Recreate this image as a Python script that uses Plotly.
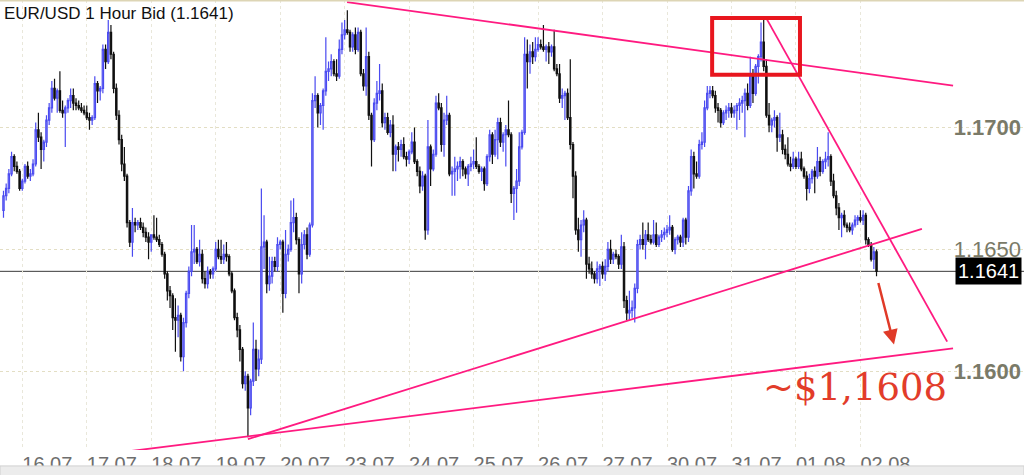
import plotly.graph_objects as go
from datetime import datetime, timedelta

# ---------------- data (prices in pips above 1.1600) ----------------
BASE = 1.1600
PIP = 0.0001

day_dates = ["2018-07-13", "2018-07-16", "2018-07-17", "2018-07-18", "2018-07-19",
             "2018-07-20", "2018-07-23", "2018-07-24", "2018-07-25", "2018-07-26",
             "2018-07-27", "2018-07-30", "2018-07-31", "2018-08-01", "2018-08-02"]
day_labels = ["13.07", "16.07", "17.07", "18.07", "19.07", "20.07", "23.07", "24.07",
              "25.07", "26.07", "27.07", "30.07", "31.07", "01.08", "02.08"]
first_hour = [17, 0, 0, 0, 0, 0, 0, 0, 0, 0, 0, 0, 0, 0, 0]
bars_per_day = [7, 24, 24, 24, 24, 24, 24, 24, 24, 24, 24, 24, 24, 24, 7]

first_open = 66
close_pips = [
    72, 75, 81, 88, 84, 82, 75,
    78, 84, 80, 81, 85, 99, 96, 91, 94, 103, 108, 116, 112, 115, 107, 106, 108, 111, 113, 110, 109, 108, 107, 106,
    104, 103, 104, 118, 115, 116, 132, 127, 139, 130, 116, 105, 95, 85, 80, 61, 53, 61, 60, 61, 59, 57, 55, 53,
    56, 55, 54, 52, 48, 40, 33, 31, 22, 21, 23, 6, 20, 32, 41, 49, 50, 45, 48, 38, 36, 41, 40, 42,
    50, 47, 46, 48, 47, 40, 33, 22, 17, 9, -5, -2, -15, -4, 9, 1, 5, 51, 53, 36, 39, 45, 43, 52,
    53, 32, 48, 50, 61, 63, 54, 40, 52, 56, 48, 60, 111, 113, 106, 109, 115, 123, 124, 127, 122, 121, 132, 138,
    140, 139, 133, 138, 132, 139, 122, 117, 129, 105, 95, 110, 114, 115, 102, 104, 98, 101, 89, 92, 91, 93, 88, 87,
    90, 94, 86, 82, 76, 80, 58, 92, 83, 89, 110, 108, 93, 103, 105, 81, 82, 83, 84, 86, 83, 81, 84, 85,
    86, 84, 82, 83, 77, 88, 97, 89, 95, 102, 94, 97, 99, 97, 73, 75, 78, 92, 98, 130, 127, 131, 129, 132,
    134, 133, 132, 133, 131, 133, 124, 122, 112, 113, 114, 104, 93, 80, 58, 54, 60, 62, 44, 42, 40, 38, 42, 43,
    40, 43, 50, 46, 48, 47, 44, 51, 29, 24, 25, 26, 34, 52, 54, 52, 56, 54, 53, 56, 52, 55, 56, 57,
    58, 59, 50, 54, 55, 53, 62, 55, 74, 88, 81, 80, 93, 94, 108, 114, 115, 113, 108, 107, 102, 106, 107, 108,
    106, 107, 109, 110, 111, 114, 109, 122, 114, 125, 129, 135, 125, 105, 101, 103, 104, 96, 97, 91, 89, 85, 84, 87,
    84, 87, 83, 80, 75, 79, 82, 80, 86, 82, 86, 87, 88, 78, 72, 67, 63, 64, 60, 59, 58, 60, 62, 63,
    62, 64, 54, 52, 46, 49, 41,
]
high_pips = [
    74, 77, 83, 90, 89, 86, 83,
    79, 85, 86, 83, 87, 102, 106, 98, 95, 105, 110, 119, 120, 116, 123, 111, 109, 112, 116, 116, 112, 111, 110, 109,
    109, 106, 105, 121, 119, 117, 134, 134, 144, 142, 131, 118, 107, 97, 92, 81, 62, 67, 63, 62, 63, 61, 59, 57,
    56, 64, 63, 56, 53, 49, 41, 35, 32, 30, 27, 24, 22, 33, 43, 60, 60, 51, 54, 50, 41, 43, 42, 43,
    53, 54, 54, 52, 53, 48, 41, 34, 24, 19, 10, 0, -1, -3, 20, 13, 9, 75, 64, 54, 47, 47, 47, 55,
    54, 54, 58, 52, 70, 71, 65, 55, 57, 58, 59, 61, 114, 121, 114, 110, 116, 137, 127, 130, 128, 128, 136, 143,
    144, 148, 140, 139, 141, 141, 140, 124, 141, 131, 106, 112, 119, 126, 118, 106, 106, 103, 105, 93, 94, 95, 96, 90,
    91, 98, 100, 87, 84, 82, 81, 103, 93, 91, 113, 114, 110, 106, 113, 106, 84, 88, 86, 88, 87, 84, 85, 88,
    91, 96, 85, 84, 84, 89, 99, 98, 99, 104, 104, 98, 101, 111, 98, 76, 83, 98, 99, 137, 136, 134, 135, 137,
    137, 136, 142, 134, 135, 134, 140, 126, 126, 116, 115, 116, 128, 94, 82, 63, 62, 66, 63, 47, 45, 41, 45, 44,
    45, 46, 53, 54, 49, 50, 48, 56, 53, 31, 33, 29, 36, 54, 56, 61, 58, 61, 56, 62, 61, 56, 58, 59,
    60, 64, 60, 55, 56, 56, 63, 63, 76, 91, 90, 86, 95, 98, 111, 117, 117, 117, 115, 110, 108, 107, 109, 110,
    110, 109, 110, 112, 113, 116, 118, 129, 124, 126, 130, 143, 145, 128, 110, 104, 107, 105, 106, 99, 93, 96, 88, 90,
    88, 90, 90, 84, 82, 81, 83, 84, 92, 88, 87, 90, 98, 89, 81, 74, 69, 65, 66, 61, 61, 61, 64, 64,
    66, 66, 65, 55, 53, 51, 50,
]
low_pips = [
    63, 70, 73, 80, 82, 81, 74,
    74, 77, 79, 78, 80, 84, 94, 83, 86, 92, 101, 106, 111, 106, 106, 104, 92, 106, 108, 107, 107, 107, 106, 105,
    103, 99, 101, 103, 110, 111, 114, 124, 126, 128, 114, 103, 93, 82, 78, 59, 51, 47, 57, 58, 58, 55, 53, 46,
    49, 54, 53, 51, 47, 38, 29, 26, 17, 8, 14, 4, 0, 18, 30, 39, 44, 44, 43, 36, 34, 34, 38, 38,
    41, 46, 44, 44, 45, 39, 32, 21, 14, 4, -7, -8, -27, -18, -6, -4, -2, 3, 42, 32, 33, 36, 41, 41,
    50, 24, 30, 45, 49, 57, 52, 32, 36, 50, 46, 47, 59, 108, 100, 101, 99, 113, 119, 121, 121, 119, 120, 130,
    136, 138, 131, 131, 130, 131, 121, 115, 113, 103, 84, 94, 107, 111, 100, 99, 97, 96, 82, 82, 86, 88, 87, 84,
    85, 89, 85, 80, 73, 74, 54, 56, 76, 82, 88, 107, 90, 88, 101, 80, 72, 72, 78, 79, 80, 79, 76, 82,
    83, 83, 81, 78, 74, 76, 86, 85, 88, 87, 92, 90, 84, 96, 69, 62, 65, 76, 91, 97, 116, 122, 126, 127,
    131, 132, 131, 127, 126, 129, 123, 121, 110, 108, 103, 103, 91, 71, 56, 49, 47, 57, 38, 40, 38, 36, 36, 35,
    38, 37, 41, 44, 44, 46, 42, 42, 26, 21, 21, 22, 20, 32, 50, 50, 46, 53, 52, 52, 51, 51, 53, 54,
    55, 56, 49, 48, 52, 51, 51, 52, 53, 72, 75, 79, 79, 91, 92, 107, 112, 112, 106, 102, 100, 101, 103, 104,
    104, 104, 99, 103, 106, 96, 107, 108, 110, 113, 118, 127, 123, 104, 98, 98, 100, 90, 94, 89, 87, 84, 82, 83,
    83, 83, 82, 79, 70, 73, 77, 73, 79, 80, 81, 83, 84, 76, 71, 64, 58, 55, 59, 57, 57, 56, 59, 60,
    61, 60, 52, 51, 45, 42, 39,
]

last_price = 1.1641
target_text = "~$1,1608"
title_text = "EUR/USD 1 Hour Bid (1.1641)"
price_ticks = [1.1600, 1.1650, 1.1700]

# hand-drawn trend lines: (bar index, price) pairs
trend_lines = [
    ((127.9, 1.17514), (353.5, 1.17171)),
    ((283.9, 1.17449), (351.3, 1.16122)),
    ((91.0, 1.15722), (341.9, 1.16584)),
    ((47.1, 1.15673), (353.5, 1.16094)),
]
box_area = ((263.8, 1.17216), (296.5, 1.17449))
arrow_head = (331.5, 1.1611)
target_pos = (317.0, 1.15935)

# ---------------- build ----------------
times = []
for d, h0, n in zip(day_dates, first_hour, bars_per_day):
    t0 = datetime.fromisoformat(d)
    for h in range(n):
        times.append((t0 + timedelta(hours=h0 + h)).strftime("%Y-%m-%d %H:%M"))

opens_p = [first_open] + close_pips[:-1]
to_price = lambda p: round(BASE + p * PIP, 5)
opens = [to_price(v) for v in opens_p]
closes = [to_price(v) for v in close_pips]
highs = [to_price(v) for v in high_pips]
lows = [to_price(v) for v in low_pips]

fig = go.Figure(go.Candlestick(
    x=times, open=opens, high=highs, low=lows, close=closes,
    increasing=dict(line=dict(color="#4a4af0", width=1.2), fillcolor="#ffffff"),
    decreasing=dict(line=dict(color="#101010", width=1.2), fillcolor="#000000"),
    whiskerwidth=0, showlegend=False, hoverinfo="skip",
))

PINK = "#ff1a80"
shapes = []
for (x0, y0), (x1, y1) in trend_lines:
    shapes.append(dict(type="line", xref="x", yref="y", x0=x0, y0=y0, x1=x1, y1=y1,
                       line=dict(color=PINK, width=1.8)))
shapes.append(dict(type="rect", xref="x", yref="y",
                   x0=box_area[0][0], y0=box_area[0][1], x1=box_area[1][0], y1=box_area[1][1],
                   line=dict(color="#e8161e", width=4)))
shapes.append(dict(type="line", xref="paper", yref="y", x0=0, x1=1, y0=last_price, y1=last_price,
                   line=dict(color="#3a3a3a", width=1), layer="below"))
shapes.append(dict(type="line", xref="paper", yref="paper", x0=0, x1=1, y0=1, y1=1,
                   line=dict(color="#ddd5b5", width=3)))
shapes.append(dict(type="rect", xref="paper", yref="paper", x0=0, x1=1, y0=-0.06, y1=-0.0354,
                   fillcolor="#ececec", line=dict(color="#d0d0d0", width=1)))

annotations = [
    dict(text=title_text, xref="paper", yref="paper", x=0, y=1, xanchor="left", yanchor="top",
         xshift=2, yshift=-2, showarrow=False,
         font=dict(family="Liberation Sans, Arial", size=17, color="#111111")),
    dict(text=str(last_price), xref="paper", yref="y", x=1, y=last_price, xanchor="right",
         yanchor="middle", xshift=-2, showarrow=False, bgcolor="#000000", borderpad=2,
         font=dict(family="Liberation Sans, Arial", size=20, color="#ffffff")),
    dict(text="", xref="x", yref="y", x=arrow_head[0], y=arrow_head[1], ax=-16, ay=-63,
         axref="pixel", ayref="pixel", showarrow=True, arrowhead=2, arrowsize=1.2,
         arrowwidth=2.5, arrowcolor="#e03a28"),
    dict(text=target_text, xref="x", yref="y", x=target_pos[0], y=target_pos[1],
         showarrow=False, font=dict(family="DejaVu Serif, Liberation Serif, serif", size=37,
                                    color="#e23c2a")),
]

tick_times = [f"{d} 00:00" for d in day_dates[1:]]

fig.update_layout(
    width=1024, height=475,
    margin=dict(l=0, r=0, t=0, b=23),
    paper_bgcolor="#ffffff", plot_bgcolor="#ffffff",
    shapes=shapes, annotations=annotations,
    xaxis=dict(type="category", range=[-1.3, 379.9], tickvals=tick_times, ticktext=day_labels[1:],
               ticklabelposition="outside right", showgrid=True, gridcolor="#e9e7da", griddash="dot",
               gridwidth=1, showline=False, zeroline=False, ticks="",
               tickfont=dict(family="Liberation Sans, Arial", size=20, color="#6e6e6e"),
               rangeslider=dict(visible=False), fixedrange=True),
    yaxis=dict(side="right", range=[BASE - 32.245 * PIP, BASE + 152.245 * PIP],
               tickvals=price_ticks, ticktext=["<b>1.1600</b>", "1.1650", "<b>1.1700</b>"],
               ticklabelposition="inside", showgrid=True, gridcolor="#e3dec4", griddash="dot",
               showline=False, zeroline=False, ticks="",
               tickfont=dict(family="Liberation Sans, Arial", size=22, color="#7a7a68")),
)

fig.write_html("out.html", config={"displayModeBar": False},
               post_script="document.body.style.margin='0';document.body.style.overflow='hidden';")
